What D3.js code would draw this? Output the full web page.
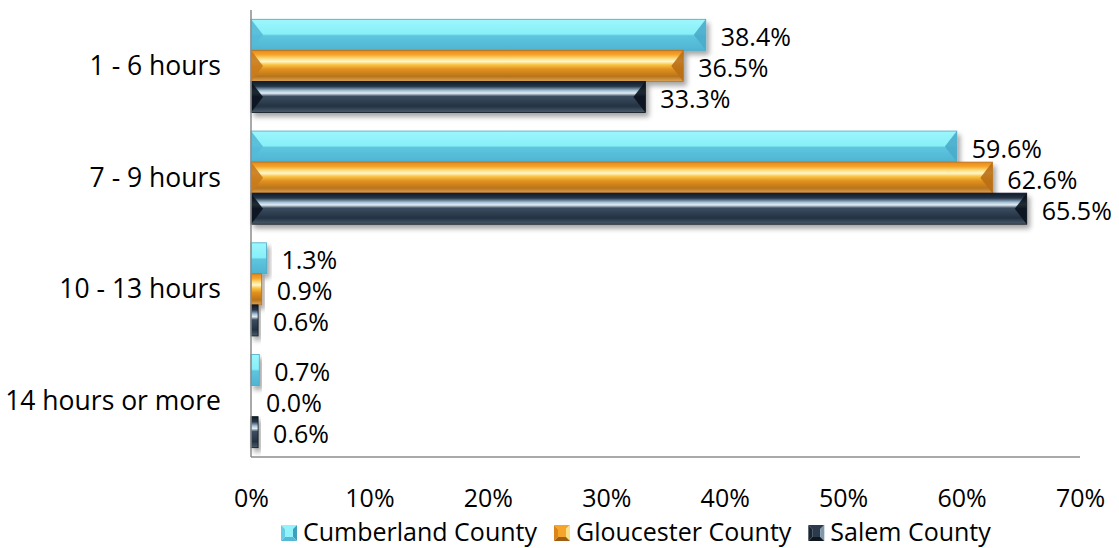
<!DOCTYPE html>
<html>
<head>
<meta charset="utf-8">
<script src="https://cdn.jsdelivr.net/npm/d3@7"></script>
<style>
  body { margin: 0; background: #fff; }
  text { font-family: "Open Sans", "Noto Sans", sans-serif; fill: #000; }
</style>
</head>
<body>
<div class="chart"></div>
<script>
var categories = ['1 - 6 hours', '7 - 9 hours', '10 - 13 hours', '14 hours or more'];
var seriesNames = ['Cumberland County', 'Gloucester County', 'Salem County'];
var cumberland = [38.4, 59.6, 1.3, 0.7];
var gloucester = [36.5, 62.6, 0.9, 0.0];
var salem = [33.3, 65.5, 0.6, 0.6];
var tickValues = [0, 10, 20, 30, 40, 50, 60, 70];

var seriesValues = [cumberland, gloucester, salem];

var width = 1119, height = 548;
var margin = { top: 10, right: 39, bottom: 91, left: 251 };

// look of each series: gradient stops + end chevron colours + legend faces
var looks = [
  { id: 'cyan', stroke: '#4aa9c6', left: '#55bad7', right: '#4aaccb',
    faces: ['#92f3fa', '#66cde6', '#3f9fbf', '#55b9d6'],
    stops: [[0, '#9cf7fc'], [0.47, '#88eff8'], [0.53, '#5ec5df'], [1, '#4fb4d1']] },
  { id: 'orange', stroke: '#b8701a', left: '#c97a1c', right: '#b96e16',
    faces: ['#f7a42a', '#d9861c', '#fbe08a', '#9e5e14'],
    stops: [[0, '#e8891a'], [0.14, '#f5a42a'], [0.28, '#fde48a'], [0.36, '#fff6cc'], [0.46, '#f9c548'],
            [0.6, '#e2921f'], [0.84, '#b9741c'], [1, '#dca65a']] },
  { id: 'dark', stroke: '#0c1620', left: '#0b141d', right: '#0b141d',
    faces: ['#2b3b4b', '#1a2633', '#7f98ac', '#0e1821'],
    stops: [[0, '#101b26'], [0.16, '#26374a'], [0.3, '#a9c4d8'], [0.38, '#e3eef6'], [0.48, '#3b4d60'],
            [0.8, '#243242'], [1, '#4c5c6c']] }
];

var svg = d3.select('div.chart').append('svg')
  .attr('width', width)
  .attr('height', height);

var defs = svg.append('defs');
looks.forEach(function (lk) {
  var g = defs.append('linearGradient')
    .attr('id', 'grad-' + lk.id)
    .attr('x1', 0).attr('y1', 0).attr('x2', 0).attr('y2', 1);
  lk.stops.forEach(function (s) {
    g.append('stop').attr('offset', s[0]).attr('stop-color', s[1]);
  });
});
var shadow = defs.append('filter').attr('id', 'shadow')
  .attr('x', '-20%').attr('y', '-30%').attr('width', '150%').attr('height', '180%');
shadow.append('feDropShadow')
  .attr('dx', 3).attr('dy', 4).attr('stdDeviation', 2.5)
  .attr('flood-color', '#000').attr('flood-opacity', 0.35);

var x = d3.scaleLinear()
  .domain([0, 70])
  .range([margin.left, width - margin.right]);

var y = d3.scaleBand()
  .domain(categories)
  .range([margin.top, height - margin.bottom]);

var ySeries = d3.scaleBand()
  .domain(d3.range(seriesNames.length))
  .range([0, y.bandwidth()])
  .paddingOuter(0.3);

// axes
var xAxis = d3.axisBottom(x).tickValues(tickValues).tickSize(0).tickPadding(32)
  .tickFormat(function (d) { return d + '%'; });
svg.append('g')
  .attr('transform', 'translate(0,' + (height - margin.bottom) + ')')
  .call(xAxis)
  .call(function (g) { g.select('.domain').remove(); })
  .selectAll('text').attr('font-size', 25).attr('font-family', null);

var yAxis = d3.axisLeft(y).tickSize(0).tickPadding(30);
svg.append('g')
  .attr('transform', 'translate(' + margin.left + ',0)')
  .call(yAxis)
  .call(function (g) { g.select('.domain').remove(); })
  .selectAll('text').attr('font-size', 26.5).attr('font-family', null).attr('dy', 9);

// bars
var rows = [];
categories.forEach(function (c, ci) {
  seriesValues.forEach(function (vals, si) {
    rows.push({ cat: c, s: si, v: vals[ci] });
  });
});

var bars = svg.append('g').selectAll('g.bar')
  .data(rows)
  .enter().append('g')
  .attr('class', 'bar')
  .attr('transform', function (d) {
    return 'translate(' + x(0) + ',' + (y(d.cat) + ySeries(d.s)) + ')';
  });

bars.filter(function (d) { return d.v > 0; }).each(function (d) {
  var g = d3.select(this).attr('filter', 'url(#shadow)');
  var w = x(d.v) - x(0);
  var h = ySeries.bandwidth();
  var b = 12;
  var lk = looks[d.s];
  g.append('rect')
    .attr('width', w).attr('height', h)
    .attr('fill', 'url(#grad-' + lk.id + ')')
    .attr('stroke', lk.stroke).attr('stroke-width', 0.8);
  if (w < 2 * b) return;
  g.append('path')
    .attr('d', 'M0,0L' + b + ',' + (h / 2) + 'L0,' + h + 'Z')
    .attr('fill', lk.left).attr('opacity', 0.9);
  g.append('path')
    .attr('d', 'M' + w + ',0L' + (w - b) + ',' + (h / 2) + 'L' + w + ',' + h + 'Z')
    .attr('fill', lk.right).attr('opacity', 0.9);
});

// data labels
svg.append('g').selectAll('text')
  .data(rows)
  .enter().append('text')
  .attr('x', function (d) { return x(d.v) + 15; })
  .attr('y', function (d) { return y(d.cat) + ySeries(d.s) + ySeries.bandwidth() / 2 + 11; })
  .attr('font-size', 25)
  .text(function (d) { return d.v.toFixed(1) + '%'; });

// axis lines
svg.append('line')
  .attr('x1', x(0)).attr('x2', x(0))
  .attr('y1', margin.top).attr('y2', height - margin.bottom)
  .attr('stroke', '#8c8c8c').attr('stroke-width', 1.5);
svg.append('line')
  .attr('x1', x(0)).attr('x2', x(70))
  .attr('y1', height - margin.bottom).attr('y2', height - margin.bottom)
  .attr('stroke', '#8c8c8c').attr('stroke-width', 1.5);

// legend: little bevelled squares (top, left, right, bottom faces)
var legend = svg.append('g').attr('transform', 'translate(281,525)');
var lx = 0;
seriesNames.forEach(function (name, i) {
  var lk = looks[i];
  var item = legend.append('g').attr('transform', 'translate(' + lx + ',0)');
  var s = 16, m = s / 2, k = 4;
  var faces = [
    [[0, 0], [s, 0], [s - k, k], [k, k]],
    [[0, 0], [k, k], [k, s - k], [0, s]],
    [[s, 0], [s, s], [s - k, s - k], [s - k, k]],
    [[0, s], [k, s - k], [s - k, s - k], [s, s]]
  ];
  item.append('rect').attr('x', k).attr('y', k).attr('width', s - 2 * k).attr('height', s - 2 * k)
    .attr('fill', lk.faces[0]);
  faces.forEach(function (f, fi) {
    item.append('path').attr('d', 'M' + f.join('L') + 'Z').attr('fill', lk.faces[fi]);
  });
  var t = item.append('text')
    .attr('x', s + 6).attr('y', 16)
    .attr('font-size', 25)
    .text(name);
  lx += s + 6 + t.node().getComputedTextLength() + 17;
});
</script>
</body>
</html>
